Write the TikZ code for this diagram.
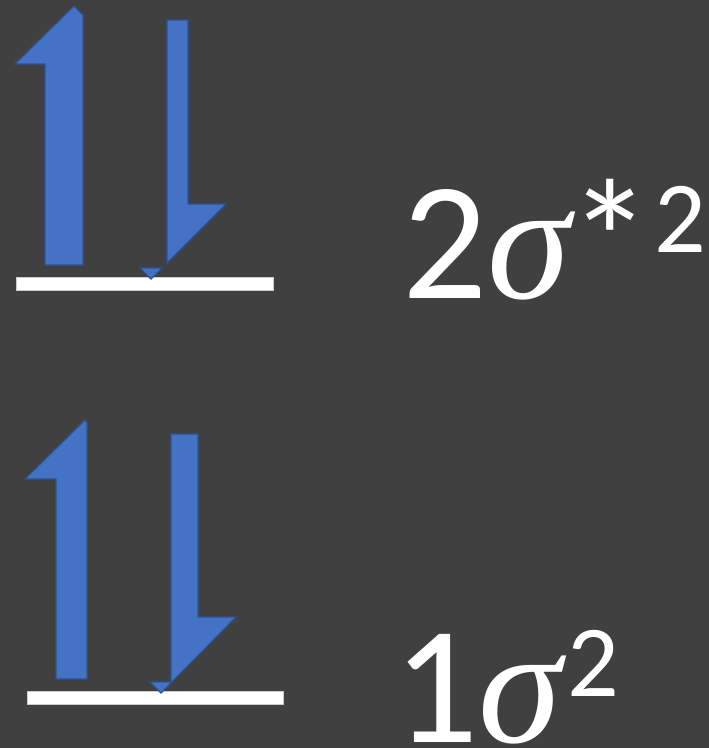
\documentclass[tikz,border=0pt]{standalone}
\usepackage{fontspec}
\setmainfont{Carlito}
\newfontfamily\sigmafont{Liberation Serif}
\usetikzlibrary{positioning}
\definecolor{moBack}{HTML}{404040}
\definecolor{moBlue}{HTML}{4472C4}
\definecolor{moEdge}{HTML}{2F528F}
\tikzset{
  spinarrow/.style={fill=moBlue,draw=moEdge,line width=1.2pt,line join=miter},
  levelline/.style={fill=white,draw=white!80!black,line width=0.6pt},
  orbitallabel/.style={anchor=base west,inner sep=0pt,text=white,
    font=\fontsize{168}{168}\selectfont}
}
\newcommand{\moSig}{{\sigmafont\itshape σ}}
\newcommand{\moSup}[1]{\raisebox{46pt}{\fontsize{102}{102}\selectfont #1}}

\begin{document}
\begin{tikzpicture}[x=1pt,y=-1pt]
  \fill[moBack] (0,0) rectangle (709,748);
  \useasboundingbox (0,0) rectangle (709,748);
  % upper level
  \draw[levelline] (16,277) rectangle (273,290);
  \draw[spinarrow] (45,265) -- (45,64) -- (15,64) -- (74,6) -- (83,15) -- (83,265) -- cycle;
  \draw[spinarrow] (167,20) -- (188,20) -- (188,204) -- (226,204) -- (167,263) -- cycle;
  \draw[spinarrow] (140,268) -- (162,268) -- (151,279) -- cycle;
  \node[orbitallabel] (antibond) at (402,298) {2\moSig\kern-2pt*\kern3pt\moSup{2}};
  % lower level
  \draw[levelline] (27,691) rectangle (283,704);
  \draw[spinarrow] (56,679) -- (56,479) -- (25,479) -- (85,420) -- (87,423) -- (87,679) -- cycle;
  \draw[spinarrow] (171,434) -- (198,434) -- (198,617) -- (236,617) -- (161,693) -- (150,682) -- (171,682) -- cycle;
  \node[orbitallabel] (bond) at (393,742) {1\moSig\kern6pt\moSup{2}};
\end{tikzpicture}
\end{document}
